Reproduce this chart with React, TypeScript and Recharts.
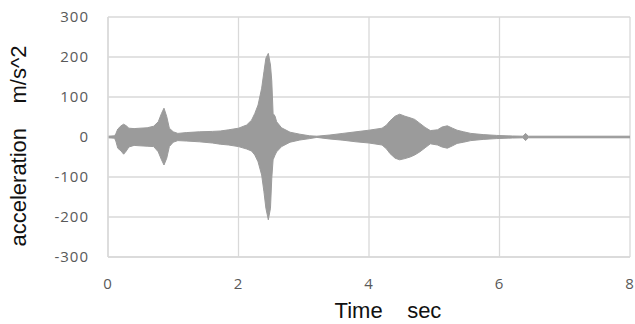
import React from 'react';
import { AreaChart, Area, XAxis, YAxis, CartesianGrid, Label } from 'recharts';

// Envelope of the acceleration signal (upper and lower bounds, m/s^2)
const times = [
  0.0, 0.1, 0.12, 0.15, 0.2, 0.24, 0.28, 0.32, 0.4, 0.49, 0.6, 0.7, 0.77, 0.82, 0.858, 0.9, 0.94,
  1.0, 1.07, 1.2, 1.4, 1.6, 1.72, 1.85, 2.0, 2.125, 2.2, 2.25, 2.3, 2.355, 2.39, 2.42, 2.457,
  2.49, 2.51, 2.53, 2.56, 2.585, 2.66, 2.79, 2.94, 3.09, 3.2, 3.4, 3.6, 3.8, 4.0, 4.2, 4.27,
  4.32, 4.4, 4.47, 4.55, 4.63, 4.7, 4.78, 4.86, 4.94, 5.05, 5.12, 5.2, 5.28, 5.35, 5.45, 5.56,
  5.75, 5.95, 6.2, 6.36, 6.4, 6.44, 8.0,
];
const upper = [
  2, 3, 8, 20, 28, 32, 28, 22, 21, 22, 23, 27, 38, 59, 72, 51, 22,
  13, 9, 11, 13, 14, 15, 18, 22, 30, 42, 59, 80, 122, 163, 197, 209,
  180, 140, 59, 52, 38, 23, 12, 7, 3, 2, 5, 9, 13, 17, 22, 30,
  40, 52, 57, 52, 48, 44, 34, 24, 16, 18, 25, 28, 22, 17, 13, 9,
  6, 4, 2.5, 2, 9, 2, 2,
];
const lower = [
  -2, -3, -10, -28, -35, -43, -35, -25, -21, -22, -23, -24, -37, -57, -70, -53, -24,
  -13, -9, -10, -12, -15, -18, -20, -24, -30, -35, -45, -62, -95, -137, -178, -207,
  -178, -103, -57, -45, -37, -24, -13, -7.5, -4, -1, -5, -8, -12, -15, -20, -30,
  -41, -53, -57, -54, -50, -45, -37, -27, -17, -20, -25, -28, -22, -16, -13, -9,
  -6, -4, -2.5, -2, -9, -2, -2,
];
const xTicks = [0, 2, 4, 6, 8];
const yTicks = [-300, -200, -100, 0, 100, 200, 300];
const xTitle = 'Time\u00A0\u00A0\u00A0\u00A0sec';
const yTitle = 'acceleration\u00A0\u00A0\u00A0\u00A0m/s^2';

const data = times.map((t, i) => ({ t, band: [lower[i], upper[i]] }));

const titleFont = { fontFamily: '"Liberation Sans", Arial, sans-serif', fontSize: 22, fill: '#111' };
const tickFont = { fill: '#595959', fontSize: 15, fontFamily: '"Open Sans", sans-serif', letterSpacing: 1 };

const XTitle = (props: any) => {
  const vb = props.viewBox;
  return (
    <text x={vb.x + vb.width / 2 + 19} y={vb.y + 61} textAnchor="middle" style={titleFont as any}>
      {xTitle}
    </text>
  );
};

const YTitle = (props: any) => {
  const vb = props.viewBox;
  const cx = vb.x + 26;
  const cy = vb.y + vb.height / 2 + 9;
  return (
    <text
      x={cx}
      y={cy}
      textAnchor="middle"
      transform={`rotate(-90 ${cx} ${cy})`}
      style={titleFont as any}
    >
      {yTitle}
    </text>
  );
};

export default function App() {
  return (
    <div style={{ position: 'absolute', left: 0, top: 0, background: '#fff' }}>
      <AreaChart width={635} height={324} data={data} margin={{ top: 17, right: 5, left: 0, bottom: 0 }}>
        <CartesianGrid stroke="#d9d9d9" strokeWidth={1.3} />
        <XAxis
          dataKey="t"
          type="number"
          domain={[0, 8]}
          ticks={xTicks}
          interval={0}
          height={67}
          tickLine={false}
          tickSize={0}
          tickMargin={21}
          axisLine={{ stroke: '#d9d9d9', strokeWidth: 1.3 }}
          tick={tickFont}
        >
          <Label content={XTitle} />
        </XAxis>
        <YAxis
          type="number"
          domain={[-300, 300]}
          ticks={yTicks}
          interval={0}
          width={108}
          tickLine={false}
          tickSize={0}
          tickMargin={19}
          axisLine={{ stroke: '#d9d9d9', strokeWidth: 1.3 }}
          tick={tickFont}
        >
          <Label content={YTitle} />
        </YAxis>
        <Area
          type="linear"
          dataKey="band"
          stroke="#9b9b9b"
          strokeWidth={1}
          fill="#9b9b9b"
          fillOpacity={1}
          dot={false}
          activeDot={false}
          isAnimationActive={false}
        />
      </AreaChart>
    </div>
  );
}
